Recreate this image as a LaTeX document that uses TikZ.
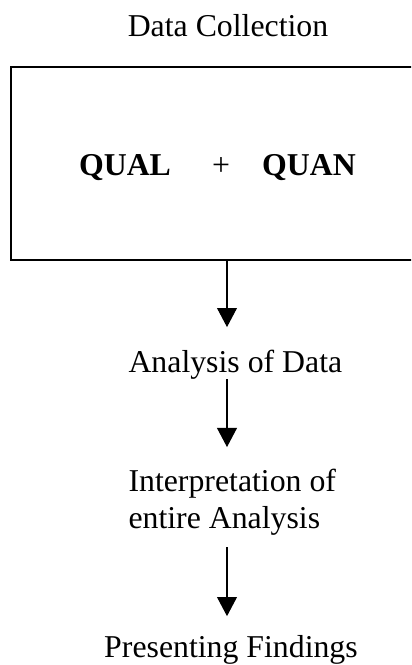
\documentclass[tikz,border=0pt]{standalone}
\usepackage{fontspec}
\setmainfont{Liberation Serif}
\usetikzlibrary{calc}
\usetikzlibrary{positioning}
\usetikzlibrary{arrows.meta}
\tikzstyle{plaintext} = [inner sep=0pt, font=\fontsize{12}{13.6}\selectfont]
\tikzstyle{boldtext} = [inner sep=0pt, font=\fontsize{12}{13.6}\selectfont\bfseries]
\tikzstyle{mixbox} = [rectangle, minimum width=185pt, minimum height=72.1pt]
\tikzstyle{boxline} = [line width=0.75pt]
\tikzstyle{flowarrow} = [line width=0.4pt, -{Triangle[width=7.5pt,length=7.2pt]}]

\begin{document}
\begin{tikzpicture}[x=0.3774pt, y=-0.3774pt]
\useasboundingbox (0,0) rectangle (411,665);
\clip (0,0) rectangle (411,665);
\node[plaintext, anchor=base] (data_title) at (228,36) {Data Collection};
\coordinate (axis) at ($(data_title.base)+(-1,0)$);
\node[mixbox] (mixed_box) at ($(data_title.base)+(28.5,127.5)$) {};
% box runs on past the right edge of the page
\draw[boxline] (mixed_box.north east) -- (mixed_box.north west) -- (mixed_box.south west) -- (mixed_box.south east);
\node[boldtext, anchor=base] (qual) at ($(mixed_box.center)+(-131.5,11.5)$) {QUAL};
\node[plaintext, anchor=base] (plus) at ($(mixed_box.center)+(-35.5,11.5)$) {+};
\node[boldtext, anchor=base] (quan) at ($(mixed_box.center)+(52.5,11.5)$) {QUAN};

\node[plaintext, anchor=base west] (analysis) at ($(data_title.base)+(-100,336)$) {Analysis of Data};
\node[plaintext, anchor=base west, align=left] (interp) at ($(analysis.base west)+(0,156)$) {Interpretation of\\entire Analysis};
\node[plaintext, anchor=base] (findings) at ($(analysis.base west)+(103,285)$) {Presenting Findings};

\draw[flowarrow, shorten >=8.3pt] (mixed_box.south -| axis) -- (analysis.north -| axis);
\draw[flowarrow, shorten >=8.3pt] (analysis.south -| axis) -- (interp.north -| axis);
\draw[flowarrow, shorten <=4.5pt, shorten >=6.9pt] (interp.south -| axis) -- (findings.north -| axis);
\end{tikzpicture}
\end{document}
